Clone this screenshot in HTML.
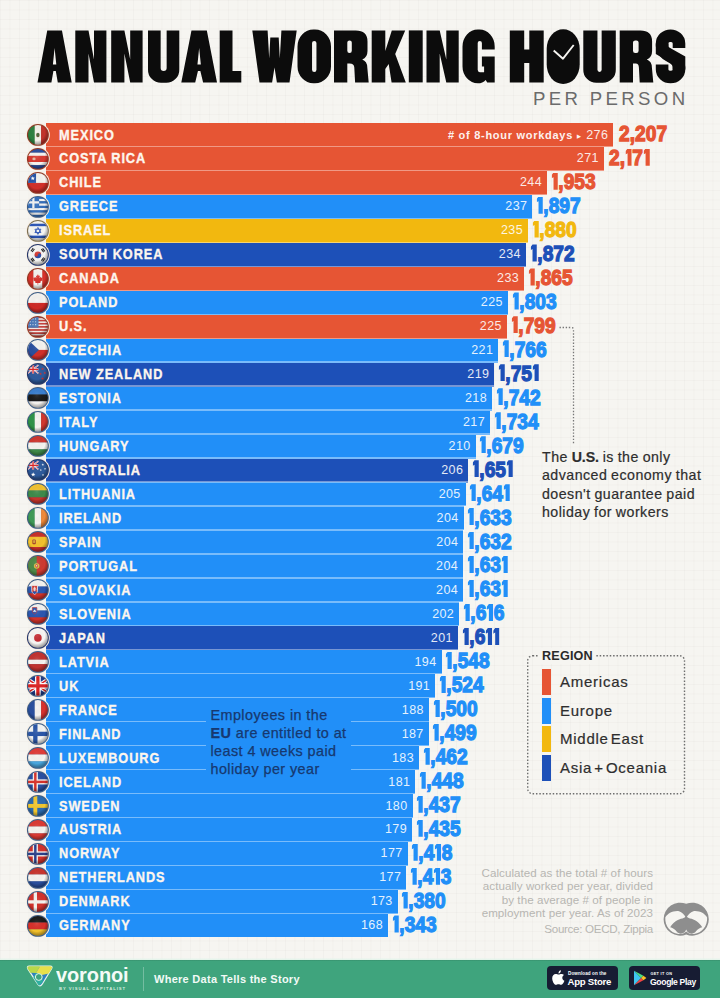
<!DOCTYPE html>
<html><head><meta charset="utf-8"><title>Annual Working Hours</title><style>
*{margin:0;padding:0;box-sizing:border-box}
html,body{width:720px;height:998px;overflow:hidden}
body{position:relative;font-family:"Liberation Sans",sans-serif;background-color:#f6f5f1;
background-image:linear-gradient(to right,rgba(120,110,90,.034) 1px,transparent 1px),linear-gradient(to bottom,rgba(120,110,90,.034) 1px,transparent 1px);background-size:9.5px 9.5px;}
.abs{position:absolute}
.bar{position:absolute;left:46px;height:24px}
.a{background:#e65534}.e{background:#218ff8}.m{background:#f2b80f}.o{background:#1d50b8}
.ca{color:#e65534}.ce{color:#218ff8}.cm{color:#f2b80f}.co{color:#1d50b8}
.sep{position:absolute;left:46px;height:1.4px;background:rgba(255,255,255,.4)}
.nm{position:absolute;left:59px;color:#fdf6ee;font-weight:bold;font-size:14.4px;line-height:24px;height:24px;white-space:nowrap;letter-spacing:1.05px;-webkit-text-stroke:.35px #fdf6ee;transform:scaleX(.885);transform-origin:0 50%}
.wd{position:absolute;color:#fff;font-size:12.5px;line-height:24px;height:24px;text-align:right;width:60px;letter-spacing:.4px;opacity:.88}
.val{position:absolute;font-weight:bold;font-size:22px;line-height:24px;height:24px;white-space:nowrap;transform:scaleX(.87);transform-origin:0 50%;-webkit-text-stroke:1.3px currentColor;letter-spacing:.05px}
.val i{display:inline-block;width:7.3px;height:17.1px;margin:0 .6px -.65px .5px;background:currentColor;clip-path:polygon(33% 0,100% 0,100% 100%,33% 100%,33% 27%,0 34%,0 16%)}
.flag{position:absolute;left:26.3px;width:23.8px;height:23.8px}
</style></head><body>
<svg class="abs" style="left:0;top:0" width="720" height="120" viewBox="0 0 720 120"><g fill="#0c0c0c"><path transform="translate(37.5 30.4)" fill-rule="evenodd" d="M0 52L9.75 0L24.45 0L34.2 52L20.3 52L18.3 40.5L15.9 40.5L13.9 52ZM17.1 17.5L18.8 34L15.4 34Z"/><path transform="translate(75.3 30.4)" fill-rule="evenodd" d="M0 0L13.2 0L18.7 29L18.7 0L31.1 0L31.1 52L18.7 52L13.2 23L13.2 52L0 52Z"/><path transform="translate(111.2 30.4)" fill-rule="evenodd" d="M0 0L13.2 0L19 29L19 0L31.4 0L31.4 52L19 52L13.2 23L13.2 52L0 52Z"/><path transform="translate(148 30.4)" fill-rule="evenodd" d="M0 0H12.65V37.5A3 3 0 0 0 18.65 37.5V0H31.3V39A13.0 13.0 0 0 1 18.3 52.4H13.0A13.0 13.0 0 0 1 0 39Z"/><path transform="translate(181.3 30.4)" fill-rule="evenodd" d="M0 52L10.17 0L25.53 0L35.7 52L21.8 52L19.05 40.5L16.65 40.5L13.9 52ZM17.85 17.5L19.55 34L16.15 34Z"/><path transform="translate(219.7 30.4)" fill-rule="evenodd" d="M0 0L12.8 0L12.8 40.6L21.6 40.6L21.6 52L0 52Z"/><path transform="translate(252.3 30.4)" fill-rule="evenodd" d="M0 0L15.3 0L16.9 28L18 7L26.4 7L27.5 28L29.1 0L44.4 0L37.2 52L24.6 52L22.2 37L19.8 52L7.2 52Z"/><path transform="translate(297.5 30.4)" fill-rule="evenodd" d="M15.95 -0.9H17.55A15.95 17 0 0 1 33.5 16.1V35.9A15.95 17 0 0 1 17.55 52.9H15.95A15.95 17 0 0 1 0 35.9V16.1A15.95 17 0 0 1 15.95 -0.9ZM16.75 10.5H16.75A2.2 2.2 0 0 1 18.95 12.7V39.3A2.2 2.2 0 0 1 16.75 41.5H16.75A2.2 2.2 0 0 1 14.55 39.3V12.7A2.2 2.2 0 0 1 16.75 10.5Z"/><path transform="translate(334 30.4)" fill-rule="evenodd" d="M0 0H21.7Q33.5 0 33.5 11V20.5Q33.5 27 28.2 29.2Q33.1 31 33.3 37L34.7 52H21.1L20.3 37Q20.1 33.2 15.55 33.2H13.3V52H0ZM15.5 10H15.6A2.2 2.2 0 0 1 17.8 12.2V20.4A2.2 2.2 0 0 1 15.6 22.6H15.5A2.2 2.2 0 0 1 13.3 20.4V12.2A2.2 2.2 0 0 1 15.5 10Z"/><path transform="translate(371.7 30.4)" fill-rule="evenodd" d="M0 0L13.6 0L13.6 20.5L20.1 0L33.5 0L23.5 23.5L34.1 52L19.9 52L17 33.5L13.6 38.5L13.6 52L0 52Z"/><path transform="translate(408.8 30.4)" fill-rule="evenodd" d="M0 0L13.9 0L13.9 52L0 52Z"/><path transform="translate(426.5 30.4)" fill-rule="evenodd" d="M0 0L13.2 0L19.8 29L19.8 0L32.2 0L32.2 52L19.8 52L13.2 23L13.2 52L0 52Z"/><path transform="translate(462.5 30.4)" fill-rule="evenodd" d="M15.3 -0.9H16.9A15.3 17 0 0 1 32.2 16.1V19.2H19.4V12.6A2.1 2.1 0 0 0 15.2 12.6V39.4Q15.2 41.8 17.3 41.8H21.6V36.2H19.4V26H32.2V52H24.7L23.2 49.5Q20.2 52.9 15.3 52.9A15.3 17 0 0 1 0 35.9V16.1A15.3 17 0 0 1 15.3 -0.9Z"/><path transform="translate(509.8 30.4)" fill-rule="evenodd" d="M0 0L14.4 0L14.4 19L19.5 19L19.5 0L33.9 0L33.9 52L19.5 52L19.5 32.6L14.4 32.6L14.4 52L0 52Z"/><path transform="translate(546.7 30.4)" fill-rule="evenodd" d="M16.5 -1.2H16.5A16.5 19.5 0 0 1 33 18.3V34.2A16.5 19.5 0 0 1 16.5 53.7H16.5A16.5 19.5 0 0 1 0 34.2V18.3A16.5 19.5 0 0 1 16.5 -1.2Z"/><path transform="translate(583.3 30.4)" fill-rule="evenodd" d="M0 0H14.15V39.4A2.1 2.1 0 0 0 18.35 39.4V0H32.5V39A13.0 13.0 0 0 1 19.5 52.4H13.0A13.0 13.0 0 0 1 0 39Z"/><path transform="translate(619.7 30.4)" fill-rule="evenodd" d="M0 0H20.6Q32.4 0 32.4 11V20.5Q32.4 27 27.1 29.2Q32 31 32.2 37L33.6 52H20L19.2 37Q19 33.2 16.1 33.2H13.3V52H0ZM15.5 10H16.7A2.2 2.2 0 0 1 18.9 12.2V20.4A2.2 2.2 0 0 1 16.7 22.6H15.5A2.2 2.2 0 0 1 13.3 20.4V12.2A2.2 2.2 0 0 1 15.5 10Z"/><path transform="translate(655.8 30.4)" d="M23.2 17.5V13A8.45 7.6 0 0 0 6.3 13V15.5Q6.3 21.5 14.75 26Q23.2 30.5 23.2 36.5V39A8.45 7.6 0 0 1 6.3 39V34.2" fill="none" stroke="#0c0c0c" stroke-width="12.6"/><path transform="translate(655.8 30.4)" d="M0 13L12.6 13L12.6 16.6L29.5 26L29.5 39L16.9 39L16.9 33.6L0 23.6Z"/></g><path d="M553.7 50.5L563 58.7L573.7 45" fill="none" stroke="#f6f5f1" stroke-width="1.9" stroke-linejoin="round"/></svg>
<div class="abs" style="left:533px;top:89px;width:160px;font-size:18.6px;line-height:20px;color:#6b6b6b;letter-spacing:3.35px;white-space:nowrap">PER PERSON</div>
<div class="bar a" style="top:123.00px;width:567.3px"></div>
<div class="bar a" style="top:146.97px;width:557.9px"></div>
<div class="bar a" style="top:170.93px;width:501.0px"></div>
<div class="bar e" style="top:194.89px;width:486.4px"></div>
<div class="bar m" style="top:218.86px;width:482.0px"></div>
<div class="bar o" style="top:242.82px;width:479.9px"></div>
<div class="bar a" style="top:266.79px;width:478.1px"></div>
<div class="bar e" style="top:290.75px;width:461.9px"></div>
<div class="bar a" style="top:314.72px;width:460.9px"></div>
<div class="bar e" style="top:338.69px;width:452.3px"></div>
<div class="bar o" style="top:362.65px;width:448.4px"></div>
<div class="bar e" style="top:386.62px;width:446.0px"></div>
<div class="bar e" style="top:410.58px;width:444.0px"></div>
<div class="bar e" style="top:434.55px;width:429.6px"></div>
<div class="bar o" style="top:458.51px;width:422.3px"></div>
<div class="bar e" style="top:482.48px;width:419.7px"></div>
<div class="bar e" style="top:506.44px;width:417.6px"></div>
<div class="bar e" style="top:530.40px;width:417.4px"></div>
<div class="bar e" style="top:554.37px;width:417.1px"></div>
<div class="bar e" style="top:578.34px;width:417.1px"></div>
<div class="bar e" style="top:602.30px;width:413.2px"></div>
<div class="bar o" style="top:626.26px;width:411.9px"></div>
<div class="bar e" style="top:650.23px;width:395.5px"></div>
<div class="bar e" style="top:674.20px;width:389.2px"></div>
<div class="bar e" style="top:698.16px;width:382.9px"></div>
<div class="bar e" style="top:722.12px;width:382.7px"></div>
<div class="bar e" style="top:746.09px;width:373.0px"></div>
<div class="bar e" style="top:770.05px;width:369.4px"></div>
<div class="bar e" style="top:794.02px;width:366.5px"></div>
<div class="bar e" style="top:817.99px;width:366.0px"></div>
<div class="bar e" style="top:841.95px;width:361.6px"></div>
<div class="bar e" style="top:865.91px;width:360.3px"></div>
<div class="bar e" style="top:889.88px;width:351.7px"></div>
<div class="bar e" style="top:913.85px;width:342.0px;height:22.9px"></div>
<div class="sep" style="top:145.80px;width:567.3px"></div>
<div class="sep" style="top:169.77px;width:557.9px"></div>
<div class="sep" style="top:193.73px;width:501.0px"></div>
<div class="sep" style="top:217.69px;width:486.4px"></div>
<div class="sep" style="top:241.66px;width:482.0px"></div>
<div class="sep" style="top:265.62px;width:479.9px"></div>
<div class="sep" style="top:289.59px;width:478.1px"></div>
<div class="sep" style="top:313.56px;width:461.9px"></div>
<div class="sep" style="top:337.52px;width:460.9px"></div>
<div class="sep" style="top:361.49px;width:452.3px"></div>
<div class="sep" style="top:385.45px;width:448.4px"></div>
<div class="sep" style="top:409.42px;width:446.0px"></div>
<div class="sep" style="top:433.38px;width:444.0px"></div>
<div class="sep" style="top:457.35px;width:429.6px"></div>
<div class="sep" style="top:481.31px;width:422.3px"></div>
<div class="sep" style="top:505.28px;width:419.7px"></div>
<div class="sep" style="top:529.24px;width:417.6px"></div>
<div class="sep" style="top:553.20px;width:417.4px"></div>
<div class="sep" style="top:577.17px;width:417.1px"></div>
<div class="sep" style="top:601.13px;width:417.1px"></div>
<div class="sep" style="top:625.10px;width:413.2px"></div>
<div class="sep" style="top:649.06px;width:411.9px"></div>
<div class="sep" style="top:673.03px;width:395.5px"></div>
<div class="sep" style="top:697.00px;width:389.2px"></div>
<div class="sep" style="top:720.96px;width:382.9px"></div>
<div class="sep" style="top:744.92px;width:382.7px"></div>
<div class="sep" style="top:768.89px;width:373.0px"></div>
<div class="sep" style="top:792.85px;width:369.4px"></div>
<div class="sep" style="top:816.82px;width:366.5px"></div>
<div class="sep" style="top:840.78px;width:366.0px"></div>
<div class="sep" style="top:864.75px;width:361.6px"></div>
<div class="sep" style="top:888.71px;width:360.3px"></div>
<div class="sep" style="top:912.68px;width:351.7px"></div>
<div class="abs" style="left:206px;top:701px;width:145px;height:92px;background:#218ff8"></div>
<div class="abs" style="left:210.5px;top:705.5px;width:160px;font-size:14.4px;line-height:18.3px;color:#17386f;letter-spacing:.42px;-webkit-text-stroke:.25px #17386f;white-space:nowrap">Employees in the<br><b>EU</b> are entitled to at<br>least 4 weeks paid<br>holiday per year</div>
<div class="nm" style="top:122.50px">MEXICO</div>
<div class="wd" style="top:122.50px;left:548.3px">276</div>
<div class="val ca" style="top:122.10px;left:618.8px">2,207</div>
<svg class="flag" style="top:122.80px" viewBox="-1.6 -1.6 23.2 23.2"><defs><clipPath id="c0"><circle cx="10" cy="10" r="9.7"/></clipPath></defs><circle cx="10" cy="10" r="11.6" fill="#f8eee4"/><circle cx="10" cy="10" r="10.7" fill="#8f3a26"/><g clip-path="url(#c0)"><rect x="0" y="0" width="7.10" height="20" fill="#2c8040"/><rect x="6.9" y="0" width="6.40" height="20" fill="#f4f2ea"/><rect x="13.1" y="0" width="7.10" height="20" fill="#c2342b"/><ellipse cx="10" cy="10" rx="1.7" ry="2.2" fill="#6b5a3a"/><ellipse cx="10" cy="9.6" rx="1" ry="1.2" fill="#3c6b3a"/><circle cx="10" cy="10" r="10" fill="url(#sh)"/></g></svg>
<div class="nm" style="top:146.47px">COSTA RICA</div>
<div class="wd" style="top:146.47px;left:538.9px">271</div>
<div class="val ca" style="top:146.06px;left:609.4px">2,<i></i>7<i></i></div>
<svg class="flag" style="top:146.77px" viewBox="-1.6 -1.6 23.2 23.2"><defs><clipPath id="c1"><circle cx="10" cy="10" r="9.7"/></clipPath></defs><circle cx="10" cy="10" r="11.6" fill="#f8eee4"/><circle cx="10" cy="10" r="10.7" fill="#8f3a26"/><g clip-path="url(#c1)"><rect x="0" y="0.00" width="20" height="4.14" fill="#2a4fa0"/><rect x="0" y="3.94" width="20" height="3.23" fill="#f6f4f0"/><rect x="0" y="6.97" width="20" height="6.26" fill="#d93a30"/><rect x="0" y="13.03" width="20" height="3.23" fill="#f6f4f0"/><rect x="0" y="16.06" width="20" height="4.14" fill="#2a4fa0"/><ellipse cx="6.2" cy="10" rx="1.6" ry="1.3" fill="#e9d9c0" opacity=".8"/><circle cx="10" cy="10" r="10" fill="url(#sh)"/></g></svg>
<div class="nm" style="top:170.43px">CHILE</div>
<div class="wd" style="top:170.43px;left:482.0px">244</div>
<div class="val ca" style="top:170.03px;left:550.6px"><i></i>,953</div>
<svg class="flag" style="top:170.73px" viewBox="-1.6 -1.6 23.2 23.2"><defs><clipPath id="c2"><circle cx="10" cy="10" r="9.7"/></clipPath></defs><circle cx="10" cy="10" r="11.6" fill="#f8eee4"/><circle cx="10" cy="10" r="10.7" fill="#8f3a26"/><g clip-path="url(#c2)"><rect width="20" height="10.2" fill="#f6f4f0"/><rect y="10" width="20" height="10" fill="#d2302a"/><rect width="8.2" height="10" fill="#2654a8"/><polygon points="5.00,3.40 5.54,4.85 7.09,4.92 5.88,5.89 6.29,7.38 5.00,6.52 3.71,7.38 4.12,5.89 2.91,4.92 4.46,4.85" fill="#fff"/><circle cx="10" cy="10" r="10" fill="url(#sh)"/></g></svg>
<div class="nm" style="top:194.39px">GREECE</div>
<div class="wd" style="top:194.39px;left:467.4px">237</div>
<div class="val ce" style="top:193.99px;left:536.0px"><i></i>,897</div>
<svg class="flag" style="top:194.69px" viewBox="-1.6 -1.6 23.2 23.2"><defs><clipPath id="c3"><circle cx="10" cy="10" r="9.7"/></clipPath></defs><circle cx="10" cy="10" r="11.6" fill="#f8eee4"/><circle cx="10" cy="10" r="10.7" fill="#3f5f86"/><g clip-path="url(#c3)"><rect x="0" y="0.00" width="20" height="2.42" fill="#356fbc"/><rect x="0" y="2.22" width="20" height="2.42" fill="#f4f4f4"/><rect x="0" y="4.44" width="20" height="2.42" fill="#356fbc"/><rect x="0" y="6.67" width="20" height="2.42" fill="#f4f4f4"/><rect x="0" y="8.89" width="20" height="2.42" fill="#356fbc"/><rect x="0" y="11.11" width="20" height="2.42" fill="#f4f4f4"/><rect x="0" y="13.33" width="20" height="2.42" fill="#356fbc"/><rect x="0" y="15.56" width="20" height="2.42" fill="#f4f4f4"/><rect x="0" y="17.78" width="20" height="2.42" fill="#356fbc"/><rect width="11.2" height="11.2" fill="#356fbc"/><path d="M5.6 0V11.2M0 5.6H11.2" stroke="#f4f4f4" stroke-width="2.2"/><circle cx="10" cy="10" r="10" fill="url(#sh)"/></g></svg>
<div class="nm" style="top:218.36px">ISRAEL</div>
<div class="wd" style="top:218.36px;left:463.0px">235</div>
<div class="val cm" style="top:217.96px;left:531.6px"><i></i>,880</div>
<svg class="flag" style="top:218.66px" viewBox="-1.6 -1.6 23.2 23.2"><defs><clipPath id="c4"><circle cx="10" cy="10" r="9.7"/></clipPath></defs><circle cx="10" cy="10" r="11.6" fill="#f8eee4"/><circle cx="10" cy="10" r="10.7" fill="#7d7052"/><g clip-path="url(#c4)"><rect width="20" height="20" fill="#f6f6f4"/><rect y="3" width="20" height="2.4" fill="#2b55b8"/><rect y="14.6" width="20" height="2.4" fill="#2b55b8"/><path d="M10 6.6L12.9 11.6H7.1ZM10 13.4L7.1 8.4H12.9Z" fill="none" stroke="#2b55b8" stroke-width=".9"/><circle cx="10" cy="10" r="10" fill="url(#sh)"/></g></svg>
<div class="nm" style="top:242.32px">SOUTH KOREA</div>
<div class="wd" style="top:242.32px;left:460.9px">234</div>
<div class="val co" style="top:241.92px;left:529.5px"><i></i>,872</div>
<svg class="flag" style="top:242.62px" viewBox="-1.6 -1.6 23.2 23.2"><defs><clipPath id="c5"><circle cx="10" cy="10" r="9.7"/></clipPath></defs><circle cx="10" cy="10" r="11.6" fill="#f8eee4"/><circle cx="10" cy="10" r="10.7" fill="#26386a"/><g clip-path="url(#c5)"><rect width="20" height="20" fill="#f6f6f4"/><path d="M6.8 10a3.2 3.2 0 0 1 6.4 0z" fill="#d2342c"/><path d="M6.8 10a3.2 3.2 0 0 0 6.4 0z" fill="#2a4ea8"/><circle cx="8.4" cy="10" r="1.6" fill="#d2342c"/><circle cx="11.6" cy="10" r="1.6" fill="#2a4ea8"/><g stroke="#222" stroke-width="1"><path d="M3.2 6.4l2.2-3M4.4 7.2l2.2-3M13.4 15.6l2.2-3M14.6 16.4l2.2-3M13.4 4.4l2.2 3M14.6 3.6l2.2 3M3.2 13.6l2.2 3M4.4 12.8l2.2 3"/></g><circle cx="10" cy="10" r="10" fill="url(#sh)"/></g></svg>
<div class="nm" style="top:266.29px">CANADA</div>
<div class="wd" style="top:266.29px;left:459.1px">233</div>
<div class="val ca" style="top:265.89px;left:527.7px"><i></i>,865</div>
<svg class="flag" style="top:266.59px" viewBox="-1.6 -1.6 23.2 23.2"><defs><clipPath id="c6"><circle cx="10" cy="10" r="9.7"/></clipPath></defs><circle cx="10" cy="10" r="11.6" fill="#f8eee4"/><circle cx="10" cy="10" r="10.7" fill="#8f3a26"/><g clip-path="url(#c6)"><rect x="0" y="0" width="5.80" height="20" fill="#d8322a"/><rect x="5.6" y="0" width="9.00" height="20" fill="#f6f4f0"/><rect x="14.4" y="0" width="5.80" height="20" fill="#d8322a"/><path d="M10 5.4l1 1.8 1-.5-.5 2.6 1.4-1.3.3.9h1.5l-.7 1.7.7.4-2.4 1.9.3 1h-2.3v1.8h-.6v-1.8H7.4l.3-1-2.4-1.9.7-.4-.7-1.7h1.5l.3-.9 1.4 1.3-.5-2.6 1 .5z" fill="#d8322a"/><circle cx="10" cy="10" r="10" fill="url(#sh)"/></g></svg>
<div class="nm" style="top:290.25px">POLAND</div>
<div class="wd" style="top:290.25px;left:442.9px">225</div>
<div class="val ce" style="top:289.86px;left:511.5px"><i></i>,803</div>
<svg class="flag" style="top:290.56px" viewBox="-1.6 -1.6 23.2 23.2"><defs><clipPath id="c7"><circle cx="10" cy="10" r="9.7"/></clipPath></defs><circle cx="10" cy="10" r="11.6" fill="#f8eee4"/><circle cx="10" cy="10" r="10.7" fill="#3f5f86"/><g clip-path="url(#c7)"><rect x="0" y="0.00" width="20" height="10.20" fill="#f6f4f0"/><rect x="0" y="10.00" width="20" height="10.20" fill="#cf2a26"/><circle cx="10" cy="10" r="10" fill="url(#sh)"/></g></svg>
<div class="nm" style="top:314.22px">U.S.</div>
<div class="wd" style="top:314.22px;left:441.9px">225</div>
<div class="val ca" style="top:313.82px;left:510.5px"><i></i>,799</div>
<svg class="flag" style="top:314.52px" viewBox="-1.6 -1.6 23.2 23.2"><defs><clipPath id="c8"><circle cx="10" cy="10" r="9.7"/></clipPath></defs><circle cx="10" cy="10" r="11.6" fill="#f8eee4"/><circle cx="10" cy="10" r="10.7" fill="#8f3a26"/><g clip-path="url(#c8)"><rect x="0" y="0.00" width="20" height="1.74" fill="#c8403c"/><rect x="0" y="1.54" width="20" height="1.74" fill="#f4ece8"/><rect x="0" y="3.08" width="20" height="1.74" fill="#c8403c"/><rect x="0" y="4.62" width="20" height="1.74" fill="#f4ece8"/><rect x="0" y="6.15" width="20" height="1.74" fill="#c8403c"/><rect x="0" y="7.69" width="20" height="1.74" fill="#f4ece8"/><rect x="0" y="9.23" width="20" height="1.74" fill="#c8403c"/><rect x="0" y="10.77" width="20" height="1.74" fill="#f4ece8"/><rect x="0" y="12.31" width="20" height="1.74" fill="#c8403c"/><rect x="0" y="13.85" width="20" height="1.74" fill="#f4ece8"/><rect x="0" y="15.38" width="20" height="1.74" fill="#c8403c"/><rect x="0" y="16.92" width="20" height="1.74" fill="#f4ece8"/><rect x="0" y="18.46" width="20" height="1.74" fill="#c8403c"/><rect width="10.6" height="10.8" fill="#4a78b8"/><g fill="#dfe8f4"><circle cx="2.6" cy="2.2" r=".55"/><circle cx="5.2" cy="2.2" r=".55"/><circle cx="7.8" cy="2.2" r=".55"/><circle cx="2.6" cy="5" r=".55"/><circle cx="5.2" cy="5" r=".55"/><circle cx="7.8" cy="5" r=".55"/><circle cx="2.6" cy="7.8" r=".55"/><circle cx="5.2" cy="7.8" r=".55"/><circle cx="7.8" cy="7.8" r=".55"/></g><circle cx="10" cy="10" r="10" fill="url(#sh)"/></g></svg>
<div class="nm" style="top:338.19px">CZECHIA</div>
<div class="wd" style="top:338.19px;left:433.3px">221</div>
<div class="val ce" style="top:337.79px;left:501.9px"><i></i>,766</div>
<svg class="flag" style="top:338.49px" viewBox="-1.6 -1.6 23.2 23.2"><defs><clipPath id="c9"><circle cx="10" cy="10" r="9.7"/></clipPath></defs><circle cx="10" cy="10" r="11.6" fill="#f8eee4"/><circle cx="10" cy="10" r="10.7" fill="#3f5f86"/><g clip-path="url(#c9)"><rect x="0" y="0.00" width="20" height="10.20" fill="#f6f4f0"/><rect x="0" y="10.00" width="20" height="10.20" fill="#d2302a"/><path d="M0 0L11 10L0 20Z" fill="#2a4f9e"/><circle cx="10" cy="10" r="10" fill="url(#sh)"/></g></svg>
<div class="nm" style="top:362.15px">NEW ZEALAND</div>
<div class="wd" style="top:362.15px;left:429.4px">219</div>
<div class="val co" style="top:361.75px;left:498.0px"><i></i>,75<i></i></div>
<svg class="flag" style="top:362.45px" viewBox="-1.6 -1.6 23.2 23.2"><defs><clipPath id="c10"><circle cx="10" cy="10" r="9.7"/></clipPath></defs><circle cx="10" cy="10" r="11.6" fill="#f8eee4"/><circle cx="10" cy="10" r="10.7" fill="#26386a"/><g clip-path="url(#c10)"><rect width="20" height="20" fill="#2d5a9c"/><g transform="translate(0,1.5)"><rect width="10.5" height="8" fill="#1f3a8a"/><path d="M0 0L10.5 8M10.5 0L0 8" stroke="#fff" stroke-width="1.36"/><path d="M0 0L10.5 8M10.5 0L0 8" stroke="#d22" stroke-width="0.52"/><path d="M5.25 0V8M0 4.0H10.5" stroke="#fff" stroke-width="2.24"/><path d="M5.25 0V8M0 4.0H10.5" stroke="#d22" stroke-width="1.28"/></g><polygon points="14.50,3.70 14.87,4.69 15.93,4.74 15.10,5.39 15.38,6.41 14.50,5.83 13.62,6.41 13.90,5.39 13.07,4.74 14.13,4.69" fill="#d8322a"/><polygon points="16.80,7.60 17.15,8.52 18.13,8.57 17.36,9.18 17.62,10.13 16.80,9.59 15.98,10.13 16.24,9.18 15.47,8.57 16.45,8.52" fill="#d8322a"/><polygon points="12.60,8.60 12.95,9.52 13.93,9.57 13.16,10.18 13.42,11.13 12.60,10.59 11.78,11.13 12.04,10.18 11.27,9.57 12.25,9.52" fill="#d8322a"/><polygon points="14.60,13.00 14.99,14.06 16.12,14.11 15.24,14.81 15.54,15.89 14.60,15.27 13.66,15.89 13.96,14.81 13.08,14.11 14.21,14.06" fill="#d8322a"/><circle cx="10" cy="10" r="10" fill="url(#sh)"/></g></svg>
<div class="nm" style="top:386.12px">ESTONIA</div>
<div class="wd" style="top:386.12px;left:427.0px">218</div>
<div class="val ce" style="top:385.72px;left:495.6px"><i></i>,742</div>
<svg class="flag" style="top:386.42px" viewBox="-1.6 -1.6 23.2 23.2"><defs><clipPath id="c11"><circle cx="10" cy="10" r="9.7"/></clipPath></defs><circle cx="10" cy="10" r="11.6" fill="#f8eee4"/><circle cx="10" cy="10" r="10.7" fill="#3f5f86"/><g clip-path="url(#c11)"><rect x="0" y="0.00" width="20" height="6.87" fill="#3a7fd0"/><rect x="0" y="6.67" width="20" height="6.87" fill="#1a1a1a"/><rect x="0" y="13.33" width="20" height="6.87" fill="#f6f4f0"/><circle cx="10" cy="10" r="10" fill="url(#sh)"/></g></svg>
<div class="nm" style="top:410.08px">ITALY</div>
<div class="wd" style="top:410.08px;left:425.0px">217</div>
<div class="val ce" style="top:409.68px;left:493.6px"><i></i>,734</div>
<svg class="flag" style="top:410.38px" viewBox="-1.6 -1.6 23.2 23.2"><defs><clipPath id="c12"><circle cx="10" cy="10" r="9.7"/></clipPath></defs><circle cx="10" cy="10" r="11.6" fill="#f8eee4"/><circle cx="10" cy="10" r="10.7" fill="#3f5f86"/><g clip-path="url(#c12)"><rect x="0" y="0" width="7.10" height="20" fill="#2f9348"/><rect x="6.9" y="0" width="6.40" height="20" fill="#f6f4f0"/><rect x="13.1" y="0" width="7.10" height="20" fill="#d2382e"/><circle cx="10" cy="10" r="10" fill="url(#sh)"/></g></svg>
<div class="nm" style="top:434.05px">HUNGARY</div>
<div class="wd" style="top:434.05px;left:410.6px">210</div>
<div class="val ce" style="top:433.65px;left:479.2px"><i></i>,679</div>
<svg class="flag" style="top:434.35px" viewBox="-1.6 -1.6 23.2 23.2"><defs><clipPath id="c13"><circle cx="10" cy="10" r="9.7"/></clipPath></defs><circle cx="10" cy="10" r="11.6" fill="#f8eee4"/><circle cx="10" cy="10" r="10.7" fill="#3f5f86"/><g clip-path="url(#c13)"><rect x="0" y="0.00" width="20" height="6.87" fill="#d0362e"/><rect x="0" y="6.67" width="20" height="6.87" fill="#f6f4f0"/><rect x="0" y="13.33" width="20" height="6.87" fill="#3f8a4a"/><circle cx="10" cy="10" r="10" fill="url(#sh)"/></g></svg>
<div class="nm" style="top:458.01px">AUSTRALIA</div>
<div class="wd" style="top:458.01px;left:403.3px">206</div>
<div class="val co" style="top:457.61px;left:471.9px"><i></i>,65<i></i></div>
<svg class="flag" style="top:458.31px" viewBox="-1.6 -1.6 23.2 23.2"><defs><clipPath id="c14"><circle cx="10" cy="10" r="9.7"/></clipPath></defs><circle cx="10" cy="10" r="11.6" fill="#f8eee4"/><circle cx="10" cy="10" r="10.7" fill="#26386a"/><g clip-path="url(#c14)"><rect width="20" height="20" fill="#2d5a9c"/><g transform="translate(0,1.5)"><rect width="10.5" height="8" fill="#1f3a8a"/><path d="M0 0L10.5 8M10.5 0L0 8" stroke="#fff" stroke-width="1.36"/><path d="M0 0L10.5 8M10.5 0L0 8" stroke="#d22" stroke-width="0.52"/><path d="M5.25 0V8M0 4.0H10.5" stroke="#fff" stroke-width="2.24"/><path d="M5.25 0V8M0 4.0H10.5" stroke="#d22" stroke-width="1.28"/></g><polygon points="5.40,12.30 5.97,13.82 7.59,13.89 6.32,14.90 6.75,16.46 5.40,15.57 4.05,16.46 4.48,14.90 3.21,13.89 4.83,13.82" fill="#fff"/><polygon points="14.80,3.80 15.10,4.59 15.94,4.63 15.28,5.16 15.51,5.97 14.80,5.50 14.09,5.97 14.32,5.16 13.66,4.63 14.50,4.59" fill="#fff"/><polygon points="17.00,7.90 17.27,8.63 18.05,8.66 17.44,9.14 17.65,9.89 17.00,9.46 16.35,9.89 16.56,9.14 15.95,8.66 16.73,8.63" fill="#fff"/><polygon points="12.80,9.10 13.07,9.83 13.85,9.86 13.24,10.34 13.45,11.09 12.80,10.66 12.15,11.09 12.36,10.34 11.75,9.86 12.53,9.83" fill="#fff"/><polygon points="15.00,13.80 15.30,14.59 16.14,14.63 15.48,15.16 15.71,15.97 15.00,15.50 14.29,15.97 14.52,15.16 13.86,14.63 14.70,14.59" fill="#fff"/><circle cx="10" cy="10" r="10" fill="url(#sh)"/></g></svg>
<div class="nm" style="top:481.98px">LITHUANIA</div>
<div class="wd" style="top:481.98px;left:400.7px">205</div>
<div class="val ce" style="top:481.58px;left:469.3px"><i></i>,64<i></i></div>
<svg class="flag" style="top:482.28px" viewBox="-1.6 -1.6 23.2 23.2"><defs><clipPath id="c15"><circle cx="10" cy="10" r="9.7"/></clipPath></defs><circle cx="10" cy="10" r="11.6" fill="#f8eee4"/><circle cx="10" cy="10" r="10.7" fill="#3f5f86"/><g clip-path="url(#c15)"><rect x="0" y="0.00" width="20" height="6.87" fill="#f2c230"/><rect x="0" y="6.67" width="20" height="6.87" fill="#3d8a4a"/><rect x="0" y="13.33" width="20" height="6.87" fill="#c8342c"/><circle cx="10" cy="10" r="10" fill="url(#sh)"/></g></svg>
<div class="nm" style="top:505.94px">IRELAND</div>
<div class="wd" style="top:505.94px;left:398.6px">204</div>
<div class="val ce" style="top:505.54px;left:467.2px"><i></i>,633</div>
<svg class="flag" style="top:506.24px" viewBox="-1.6 -1.6 23.2 23.2"><defs><clipPath id="c16"><circle cx="10" cy="10" r="9.7"/></clipPath></defs><circle cx="10" cy="10" r="11.6" fill="#f8eee4"/><circle cx="10" cy="10" r="10.7" fill="#3f5f86"/><g clip-path="url(#c16)"><rect x="0" y="0" width="7.10" height="20" fill="#3f9a56"/><rect x="6.9" y="0" width="6.40" height="20" fill="#f6f4f0"/><rect x="13.1" y="0" width="7.10" height="20" fill="#f08a3a"/><circle cx="10" cy="10" r="10" fill="url(#sh)"/></g></svg>
<div class="nm" style="top:529.90px">SPAIN</div>
<div class="wd" style="top:529.90px;left:398.4px">204</div>
<div class="val ce" style="top:529.50px;left:467.0px"><i></i>,632</div>
<svg class="flag" style="top:530.20px" viewBox="-1.6 -1.6 23.2 23.2"><defs><clipPath id="c17"><circle cx="10" cy="10" r="9.7"/></clipPath></defs><circle cx="10" cy="10" r="11.6" fill="#f8eee4"/><circle cx="10" cy="10" r="10.7" fill="#3f5f86"/><g clip-path="url(#c17)"><rect x="0" y="0.00" width="20" height="5.20" fill="#c8302a"/><rect x="0" y="5.00" width="20" height="10.20" fill="#f4c22c"/><rect x="0" y="15.00" width="20" height="5.20" fill="#c8302a"/><rect x="4.6" y="7.6" width="3.4" height="4.6" rx="1" fill="#a8482c"/><rect x="5.4" y="8.4" width="1.8" height="2.6" fill="#d8a83a"/><circle cx="10" cy="10" r="10" fill="url(#sh)"/></g></svg>
<div class="nm" style="top:553.87px">PORTUGAL</div>
<div class="wd" style="top:553.87px;left:398.1px">204</div>
<div class="val ce" style="top:553.47px;left:466.7px"><i></i>,63<i></i></div>
<svg class="flag" style="top:554.17px" viewBox="-1.6 -1.6 23.2 23.2"><defs><clipPath id="c18"><circle cx="10" cy="10" r="9.7"/></clipPath></defs><circle cx="10" cy="10" r="11.6" fill="#f8eee4"/><circle cx="10" cy="10" r="10.7" fill="#3f5f86"/><g clip-path="url(#c18)"><rect width="20" height="20" fill="#cf3a30"/><rect width="8.8" height="20" fill="#4d8a48"/><circle cx="8.800" cy="10" r="2.7" fill="#d8c04a"/><rect x="7.7" y="8.500" width="2.2" height="3" rx=".9" fill="#cf3a30"/><rect x="8.3" y="9.200" width="1" height="1.4" fill="#f6f4f0"/><circle cx="10" cy="10" r="10" fill="url(#sh)"/></g></svg>
<div class="nm" style="top:577.84px">SLOVAKIA</div>
<div class="wd" style="top:577.84px;left:398.1px">204</div>
<div class="val ce" style="top:577.44px;left:466.7px"><i></i>,63<i></i></div>
<svg class="flag" style="top:578.13px" viewBox="-1.6 -1.6 23.2 23.2"><defs><clipPath id="c19"><circle cx="10" cy="10" r="9.7"/></clipPath></defs><circle cx="10" cy="10" r="11.6" fill="#f8eee4"/><circle cx="10" cy="10" r="10.7" fill="#3f5f86"/><g clip-path="url(#c19)"><rect x="0" y="0.00" width="20" height="6.87" fill="#f6f4f0"/><rect x="0" y="6.67" width="20" height="6.87" fill="#2a56b0"/><rect x="0" y="13.33" width="20" height="6.87" fill="#d2322a"/><path d="M4 5.6h5.6v5.2c0 2.2-2.8 3.6-2.8 3.6s-2.8-1.4-2.8-3.6z" fill="#d2322a" stroke="#f6f4f0" stroke-width=".8"/><path d="M6.8 6.8v5M5.4 8.4h2.8M5 10h3.6" stroke="#f6f4f0" stroke-width=".8"/><path d="M4.6 12.2c1-1.2 3.4-1.2 4.4 0l-2.2 2z" fill="#2a56b0"/><circle cx="10" cy="10" r="10" fill="url(#sh)"/></g></svg>
<div class="nm" style="top:601.80px">SLOVENIA</div>
<div class="wd" style="top:601.80px;left:394.2px">202</div>
<div class="val ce" style="top:601.40px;left:462.8px"><i></i>,6<i></i>6</div>
<svg class="flag" style="top:602.10px" viewBox="-1.6 -1.6 23.2 23.2"><defs><clipPath id="c20"><circle cx="10" cy="10" r="9.7"/></clipPath></defs><circle cx="10" cy="10" r="11.6" fill="#f8eee4"/><circle cx="10" cy="10" r="10.7" fill="#3f5f86"/><g clip-path="url(#c20)"><rect x="0" y="0.00" width="20" height="6.87" fill="#f6f4f0"/><rect x="0" y="6.67" width="20" height="6.87" fill="#2a56b0"/><rect x="0" y="13.33" width="20" height="6.87" fill="#d2322a"/><path d="M4.6 3.8h4.4v3.6c0 1.8-2.2 2.8-2.2 2.8s-2.2-1-2.2-2.8z" fill="#2a56b0" stroke="#d2322a" stroke-width=".6"/><path d="M5 8l1.8-2.4L8.6 8z" fill="#f6f4f0"/><circle cx="10" cy="10" r="10" fill="url(#sh)"/></g></svg>
<div class="nm" style="top:625.76px">JAPAN</div>
<div class="wd" style="top:625.76px;left:392.9px">201</div>
<div class="val co" style="top:625.37px;left:461.5px"><i></i>,6<i></i><i></i></div>
<svg class="flag" style="top:626.06px" viewBox="-1.6 -1.6 23.2 23.2"><defs><clipPath id="c21"><circle cx="10" cy="10" r="9.7"/></clipPath></defs><circle cx="10" cy="10" r="11.6" fill="#f8eee4"/><circle cx="10" cy="10" r="10.7" fill="#26386a"/><g clip-path="url(#c21)"><rect width="20" height="20" fill="#f8f6f4"/><circle cx="10" cy="10" r="3.7" fill="#c62c34"/><circle cx="10" cy="10" r="10" fill="url(#sh)"/></g></svg>
<div class="nm" style="top:649.73px">LATVIA</div>
<div class="wd" style="top:649.73px;left:376.5px">194</div>
<div class="val ce" style="top:649.33px;left:445.1px"><i></i>,548</div>
<svg class="flag" style="top:650.03px" viewBox="-1.6 -1.6 23.2 23.2"><defs><clipPath id="c22"><circle cx="10" cy="10" r="9.7"/></clipPath></defs><circle cx="10" cy="10" r="11.6" fill="#f8eee4"/><circle cx="10" cy="10" r="10.7" fill="#3f5f86"/><g clip-path="url(#c22)"><rect x="0" y="0.00" width="20" height="8.04" fill="#c2332f"/><rect x="0" y="7.84" width="20" height="4.51" fill="#f6f4f0"/><rect x="0" y="12.16" width="20" height="8.04" fill="#c2332f"/><circle cx="10" cy="10" r="10" fill="url(#sh)"/></g></svg>
<div class="nm" style="top:673.70px">UK</div>
<div class="wd" style="top:673.70px;left:370.2px">191</div>
<div class="val ce" style="top:673.30px;left:438.8px"><i></i>,524</div>
<svg class="flag" style="top:674.00px" viewBox="-1.6 -1.6 23.2 23.2"><defs><clipPath id="c23"><circle cx="10" cy="10" r="9.7"/></clipPath></defs><circle cx="10" cy="10" r="11.6" fill="#f8eee4"/><circle cx="10" cy="10" r="10.7" fill="#3f5f86"/><g clip-path="url(#c23)"><g transform="translate(-5,0)"><rect width="30" height="20" fill="#1f3a8a"/><path d="M0 0L30 20M30 0L0 20" stroke="#fff" stroke-width="3.40"/><path d="M0 0L30 20M30 0L0 20" stroke="#d22" stroke-width="1.30"/><path d="M15.0 0V20M0 10.0H30" stroke="#fff" stroke-width="5.60"/><path d="M15.0 0V20M0 10.0H30" stroke="#d22" stroke-width="3.20"/></g><circle cx="10" cy="10" r="10" fill="url(#sh)"/></g></svg>
<div class="nm" style="top:697.66px">FRANCE</div>
<div class="wd" style="top:697.66px;left:363.9px">188</div>
<div class="val ce" style="top:697.26px;left:432.5px"><i></i>,500</div>
<svg class="flag" style="top:697.96px" viewBox="-1.6 -1.6 23.2 23.2"><defs><clipPath id="c24"><circle cx="10" cy="10" r="9.7"/></clipPath></defs><circle cx="10" cy="10" r="11.6" fill="#f8eee4"/><circle cx="10" cy="10" r="10.7" fill="#3f5f86"/><g clip-path="url(#c24)"><rect x="0" y="0" width="7.10" height="20" fill="#2a4f9e"/><rect x="6.9" y="0" width="6.40" height="20" fill="#f6f4f0"/><rect x="13.1" y="0" width="7.10" height="20" fill="#d8322e"/><circle cx="10" cy="10" r="10" fill="url(#sh)"/></g></svg>
<div class="nm" style="top:721.62px">FINLAND</div>
<div class="wd" style="top:721.62px;left:363.7px">187</div>
<div class="val ce" style="top:721.23px;left:432.3px"><i></i>,499</div>
<svg class="flag" style="top:721.92px" viewBox="-1.6 -1.6 23.2 23.2"><defs><clipPath id="c25"><circle cx="10" cy="10" r="9.7"/></clipPath></defs><circle cx="10" cy="10" r="11.6" fill="#f8eee4"/><circle cx="10" cy="10" r="10.7" fill="#3f5f86"/><g clip-path="url(#c25)"><rect width="20" height="20" fill="#f6f6f4"/><rect x="5.4" y="0" width="4.2" height="20" fill="#2a56a8"/><rect x="0" y="7.9" width="20" height="4.2" fill="#2a56a8"/><circle cx="10" cy="10" r="10" fill="url(#sh)"/></g></svg>
<div class="nm" style="top:745.59px">LUXEMBOURG</div>
<div class="wd" style="top:745.59px;left:354.0px">183</div>
<div class="val ce" style="top:745.19px;left:422.6px"><i></i>,462</div>
<svg class="flag" style="top:745.89px" viewBox="-1.6 -1.6 23.2 23.2"><defs><clipPath id="c26"><circle cx="10" cy="10" r="9.7"/></clipPath></defs><circle cx="10" cy="10" r="11.6" fill="#f8eee4"/><circle cx="10" cy="10" r="10.7" fill="#3f5f86"/><g clip-path="url(#c26)"><rect x="0" y="0.00" width="20" height="6.87" fill="#e03c38"/><rect x="0" y="6.67" width="20" height="6.87" fill="#f6f4f0"/><rect x="0" y="13.33" width="20" height="6.87" fill="#4aa8e0"/><circle cx="10" cy="10" r="10" fill="url(#sh)"/></g></svg>
<div class="nm" style="top:769.55px">ICELAND</div>
<div class="wd" style="top:769.55px;left:350.4px">181</div>
<div class="val ce" style="top:769.15px;left:419.0px"><i></i>,448</div>
<svg class="flag" style="top:769.85px" viewBox="-1.6 -1.6 23.2 23.2"><defs><clipPath id="c27"><circle cx="10" cy="10" r="9.7"/></clipPath></defs><circle cx="10" cy="10" r="11.6" fill="#f8eee4"/><circle cx="10" cy="10" r="10.7" fill="#3f5f86"/><g clip-path="url(#c27)"><rect width="20" height="20" fill="#2a4fa0"/><rect x="5.0" y="0" width="5" height="20" fill="#f6f4f0"/><rect x="0" y="7.5" width="20" height="5" fill="#f6f4f0"/><rect x="6.3" y="0" width="2.4" height="20" fill="#d8322a"/><rect x="0" y="8.8" width="20" height="2.4" fill="#d8322a"/><circle cx="10" cy="10" r="10" fill="url(#sh)"/></g></svg>
<div class="nm" style="top:793.52px">SWEDEN</div>
<div class="wd" style="top:793.52px;left:347.5px">180</div>
<div class="val ce" style="top:793.12px;left:416.1px"><i></i>,437</div>
<svg class="flag" style="top:793.82px" viewBox="-1.6 -1.6 23.2 23.2"><defs><clipPath id="c28"><circle cx="10" cy="10" r="9.7"/></clipPath></defs><circle cx="10" cy="10" r="11.6" fill="#f8eee4"/><circle cx="10" cy="10" r="10.7" fill="#3f5f86"/><g clip-path="url(#c28)"><rect width="20" height="20" fill="#2a6ab0"/><rect x="5.6" y="0" width="3.8" height="20" fill="#f4c82e"/><rect x="0" y="8.1" width="20" height="3.8" fill="#f4c82e"/><circle cx="10" cy="10" r="10" fill="url(#sh)"/></g></svg>
<div class="nm" style="top:817.49px">AUSTRIA</div>
<div class="wd" style="top:817.49px;left:347.0px">179</div>
<div class="val ce" style="top:817.09px;left:415.6px"><i></i>,435</div>
<svg class="flag" style="top:817.78px" viewBox="-1.6 -1.6 23.2 23.2"><defs><clipPath id="c29"><circle cx="10" cy="10" r="9.7"/></clipPath></defs><circle cx="10" cy="10" r="11.6" fill="#f8eee4"/><circle cx="10" cy="10" r="10.7" fill="#3f5f86"/><g clip-path="url(#c29)"><rect x="0" y="0.00" width="20" height="6.87" fill="#dc3a34"/><rect x="0" y="6.67" width="20" height="6.87" fill="#f6f4f0"/><rect x="0" y="13.33" width="20" height="6.87" fill="#dc3a34"/><circle cx="10" cy="10" r="10" fill="url(#sh)"/></g></svg>
<div class="nm" style="top:841.45px">NORWAY</div>
<div class="wd" style="top:841.45px;left:342.6px">177</div>
<div class="val ce" style="top:841.05px;left:411.2px"><i></i>,4<i></i>8</div>
<svg class="flag" style="top:841.75px" viewBox="-1.6 -1.6 23.2 23.2"><defs><clipPath id="c30"><circle cx="10" cy="10" r="9.7"/></clipPath></defs><circle cx="10" cy="10" r="11.6" fill="#f8eee4"/><circle cx="10" cy="10" r="10.7" fill="#3f5f86"/><g clip-path="url(#c30)"><rect width="20" height="20" fill="#d2322c"/><rect x="5.0" y="0" width="5" height="20" fill="#f6f4f0"/><rect x="0" y="7.5" width="20" height="5" fill="#f6f4f0"/><rect x="6.3" y="0" width="2.4" height="20" fill="#2a3f8a"/><rect x="0" y="8.8" width="20" height="2.4" fill="#2a3f8a"/><circle cx="10" cy="10" r="10" fill="url(#sh)"/></g></svg>
<div class="nm" style="top:865.41px">NETHERLANDS</div>
<div class="wd" style="top:865.41px;left:341.3px">177</div>
<div class="val ce" style="top:865.01px;left:409.9px"><i></i>,4<i></i>3</div>
<svg class="flag" style="top:865.71px" viewBox="-1.6 -1.6 23.2 23.2"><defs><clipPath id="c31"><circle cx="10" cy="10" r="9.7"/></clipPath></defs><circle cx="10" cy="10" r="11.6" fill="#f8eee4"/><circle cx="10" cy="10" r="10.7" fill="#3f5f86"/><g clip-path="url(#c31)"><rect x="0" y="0.00" width="20" height="6.87" fill="#c8342e"/><rect x="0" y="6.67" width="20" height="6.87" fill="#f6f4f0"/><rect x="0" y="13.33" width="20" height="6.87" fill="#2a4f9e"/><circle cx="10" cy="10" r="10" fill="url(#sh)"/></g></svg>
<div class="nm" style="top:889.38px">DENMARK</div>
<div class="wd" style="top:889.38px;left:332.7px">173</div>
<div class="val ce" style="top:888.98px;left:401.3px"><i></i>,380</div>
<svg class="flag" style="top:889.68px" viewBox="-1.6 -1.6 23.2 23.2"><defs><clipPath id="c32"><circle cx="10" cy="10" r="9.7"/></clipPath></defs><circle cx="10" cy="10" r="11.6" fill="#f8eee4"/><circle cx="10" cy="10" r="10.7" fill="#3f5f86"/><g clip-path="url(#c32)"><rect width="20" height="20" fill="#d2322c"/><rect x="5.9" y="0" width="3.2" height="20" fill="#f6f4f0"/><rect x="0" y="8.4" width="20" height="3.2" fill="#f6f4f0"/><circle cx="10" cy="10" r="10" fill="url(#sh)"/></g></svg>
<div class="nm" style="top:913.35px">GERMANY</div>
<div class="wd" style="top:913.35px;left:323.0px">168</div>
<div class="val ce" style="top:912.95px;left:391.6px"><i></i>,343</div>
<svg class="flag" style="top:913.64px" viewBox="-1.6 -1.6 23.2 23.2"><defs><clipPath id="c33"><circle cx="10" cy="10" r="9.7"/></clipPath></defs><circle cx="10" cy="10" r="11.6" fill="#f8eee4"/><circle cx="10" cy="10" r="10.7" fill="#3f5f86"/><g clip-path="url(#c33)"><rect x="0" y="0.00" width="20" height="6.87" fill="#1c1c1c"/><rect x="0" y="6.67" width="20" height="6.87" fill="#d8302a"/><rect x="0" y="13.33" width="20" height="6.87" fill="#f4c22c"/><circle cx="10" cy="10" r="10" fill="url(#sh)"/></g></svg>
<svg width="0" height="0" style="position:absolute"><defs><radialGradient id="sh" cx=".45" cy=".38" r=".62"><stop offset="0" stop-color="#fff" stop-opacity=".1"/><stop offset=".62" stop-color="#000" stop-opacity="0"/><stop offset="1" stop-color="#000" stop-opacity=".42"/></radialGradient></defs></svg>
<div class="abs" style="left:440px;top:122.5px;width:141.5px;text-align:right;color:#fff;font-weight:bold;font-size:11px;line-height:24px;white-space:nowrap;letter-spacing:.72px;opacity:.92"># of 8-hour workdays <span style="font-size:5px;vertical-align:1.5px">&#9654;</span></div>
<svg class="abs" style="left:550px;top:320px" width="40" height="130"><path d="M9.5 7.5H21.5Q23.5 7.5 23.5 9.5V124" fill="none" stroke="#777" stroke-width="1.3" stroke-dasharray="1.4 1.7"/></svg>
<div class="abs" style="left:542px;top:447.5px;width:178px;font-size:14.2px;line-height:18.6px;color:#2e2e2e;letter-spacing:.47px;word-spacing:-.6px;-webkit-text-stroke:.2px #2e2e2e;white-space:nowrap">The <b style="letter-spacing:-.1px">U.S.</b> is the only<br>advanced economy that<br>doesn&#39;t guarantee paid<br>holiday for workers</div>
<svg class="abs" style="left:520px;top:648px" width="180" height="160"><rect x="7.7" y="7.700" width="156.800" height="138" rx="5" fill="none" stroke="#6e6e6e" stroke-width="1.4" stroke-dasharray="1.5 1.85"/></svg>
<div class="abs" style="left:538px;top:648px;width:57px;height:16px;background:#f6f5f1"></div>
<div class="abs" style="left:542px;top:648px;font-size:12.6px;line-height:16px;font-weight:bold;color:#2a2a2a;letter-spacing:.2px">REGION</div>
<div class="abs a" style="left:541.5px;top:669.0px;width:9.5px;height:26px"></div>
<div class="abs" style="left:560px;top:672.0px;font-size:15px;line-height:20px;color:#2e2e2e;letter-spacing:.75px;word-spacing:-2.8px;-webkit-text-stroke:.2px #2e2e2e;white-space:nowrap">Americas</div>
<div class="abs e" style="left:541.5px;top:697.7px;width:9.5px;height:26px"></div>
<div class="abs" style="left:560px;top:700.7px;font-size:15px;line-height:20px;color:#2e2e2e;letter-spacing:.75px;word-spacing:-2.8px;-webkit-text-stroke:.2px #2e2e2e;white-space:nowrap">Europe</div>
<div class="abs m" style="left:541.5px;top:726.4px;width:9.5px;height:26px"></div>
<div class="abs" style="left:560px;top:729.4px;font-size:15px;line-height:20px;color:#2e2e2e;letter-spacing:.75px;word-spacing:-2.8px;-webkit-text-stroke:.2px #2e2e2e;white-space:nowrap">Middle East</div>
<div class="abs o" style="left:541.5px;top:755.1px;width:9.5px;height:26px"></div>
<div class="abs" style="left:560px;top:758.1px;font-size:15px;line-height:20px;color:#2e2e2e;letter-spacing:.75px;word-spacing:-2.8px;-webkit-text-stroke:.2px #2e2e2e;white-space:nowrap">Asia + Oceania</div>
<div class="abs" style="left:440px;top:866px;width:213px;text-align:right;font-size:11.6px;line-height:13.4px;color:#b7b6b2;white-space:nowrap;letter-spacing:.06px">Calculated as the total # of hours<br>actually worked per year, divided<br>by the average # of people in<br>employment per year. As of 2023</div>
<div class="abs" style="left:440px;top:921px;width:213px;text-align:right;font-size:11.6px;line-height:16px;color:#b7b6b2;white-space:nowrap;letter-spacing:-.3px">Source: OECD, Zippia</div>
<svg class="abs" style="left:660px;top:899px" width="54" height="42" viewBox="0 0 54 42">
<path d="M26.2 4.87A16.500 16.500 0 1 0 26.200 35.530A16.500 16.500 0 1 0 26.200 4.870Z" fill="#8e8e8e"/>
<path d="M5.300 18.500C7.500 14.500 13 11.500 19 12.200C22 13 24.500 15.500 26.200 19.300C27.900 15.500 30.400 13 33.400 12.200C39.400 11.500 44.900 14.500 47.100 18.500C47.600 27 42 34 34 35C30.500 35.200 28 34.200 26.200 32.400C24.400 34.200 21.900 35.200 18.400 35C10.400 34 4.800 27 5.300 18.500Z" fill="#f6f5f1"/>
<path d="M10.200 28.200C13 23.500 18 20 22.500 19.500C24 19 25.300 18.200 26.200 17C27.100 18.200 28.400 19 29.900 19.500C34.400 20 39.400 23.500 42.200 28.200C40 28.800 37.500 30.200 35.600 32.800C34.200 34.800 30 35.800 27.200 32.600L26.200 30.600L25.200 32.600C22.400 35.800 18.200 34.800 16.800 32.800C14.900 30.200 12.400 28.800 10.200 28.200Z" fill="#8e8e8e"/>
</svg>
<div class="abs" style="left:0;top:959.5px;width:720px;height:39px;background:linear-gradient(#38916e,#3fa47d 1.5px,#3fa47d)"></div>
<div class="abs" style="left:0;top:957.5px;width:720px;height:2px;background:linear-gradient(rgba(225,245,235,.2),#e2f4ea)"></div>
<svg class="abs" style="left:26px;top:964px" width="28" height="24" viewBox="0 0 28 24">
<path d="M3.2 2.2H24.2Q27 2.2 25.6 4.8L16.2 20.2Q14 23.4 11.8 20.2L1.8 4.8Q.6 2.2 3.2 2.2Z" fill="#2f7fc0" stroke="#e8f4ee" stroke-width="1.2" stroke-linejoin="round"/>
<path d="M3.2 2.2H14L10 9L4.4 8.8L1.8 4.8Q.6 2.2 3.2 2.2Z" fill="#b8d84a"/>
<path d="M14 2.2H24.2Q27 2.2 25.6 4.8L22.6 9.6L16 11L10 9Z" fill="#e8e04a"/>
<path d="M10 9L16 11L17 17.6L13.4 21.6Q12.4 21.4 11.8 20.2L7.4 13.4Z" fill="#2fb0a0"/>
<circle cx="12.8" cy="13" r="3.4" fill="#3fa47d" stroke="#e8f4ee" stroke-width="1"/>
</svg>
<div class="abs" style="left:55.5px;top:963.5px;font-size:19.6px;line-height:22px;font-weight:bold;color:#f4fbf7;letter-spacing:-.1px;transform:scaleX(1.02);transform-origin:0 50%">voronoi</div>
<div class="abs" style="left:59px;top:986.3px;font-size:4.2px;line-height:6px;font-weight:bold;color:#d4ebdf;letter-spacing:.97px;white-space:nowrap">BY VISUAL CAPITALIST</div>
<div class="abs" style="left:143px;top:967px;width:1px;height:24px;background:rgba(255,255,255,.28)"></div>
<div class="abs" style="left:154px;top:971px;font-size:11px;line-height:16px;font-weight:bold;color:#f2faf6;letter-spacing:.28px;white-space:nowrap">Where Data Tells the Story</div>
<div class="abs" style="left:547px;top:966px;width:71px;height:24px;background:#171c33;border-radius:4px"></div>
<div class="abs" style="left:629px;top:966px;width:71px;height:24px;background:#171c33;border-radius:4px"></div>
<svg class="abs" style="left:551px;top:969px" width="15" height="18" viewBox="0 0 15 18"><path d="M10.6 4.9c-1.3 0-2 .7-2.9.7-.9 0-1.800-.7-3-.7C2.800 4.900 1.200 6.500 1.200 9.200c0 2.900 2 6.600 3.700 6.600.9 0 1.400-.6 2.600-.6 1.200 0 1.500.6 2.600.6 1.300 0 2.700-2.200 3.300-4-1.400-.6-2.100-1.700-2.100-3 0-1.200.6-2.200 1.700-2.900-.7-.7-1.500-1-2.400-1zM9.900 1.200c-1.300.2-2.600 1.500-2.400 3.200 1.400 0 2.600-1.500 2.400-3.200z" fill="#fff"/></svg>
<div class="abs" style="left:568px;top:970.5px;font-size:4.6px;line-height:6px;font-weight:bold;color:#fff;white-space:nowrap;letter-spacing:.1px">Download on the</div>
<div class="abs" style="left:567.5px;top:975.5px;font-size:9.6px;line-height:12px;font-weight:bold;color:#fff;white-space:nowrap;letter-spacing:-.25px">App Store</div>
<svg class="abs" style="left:633px;top:970px" width="14" height="16" viewBox="0 0 14 16"><path d="M1 .8L8.200 8L1 15.200Z" fill="#3ec6f0"/><path d="M1 .8L10.400 5.800L8.200 8Z" fill="#4ade80"/><path d="M1 15.200L10.400 10.200L8.200 8Z" fill="#ef4444"/><path d="M10.400 5.800L13.400 8L10.400 10.200L8.200 8Z" fill="#fbbf24"/></svg>
<div class="abs" style="left:650.5px;top:970.5px;font-size:3.8px;line-height:6px;font-weight:bold;color:#fff;white-space:nowrap;letter-spacing:.3px">GET IT ON</div>
<div class="abs" style="left:650px;top:975.5px;font-size:8.6px;line-height:12px;font-weight:bold;color:#fff;white-space:nowrap;letter-spacing:-.35px">Google Play</div>
</body></html>
